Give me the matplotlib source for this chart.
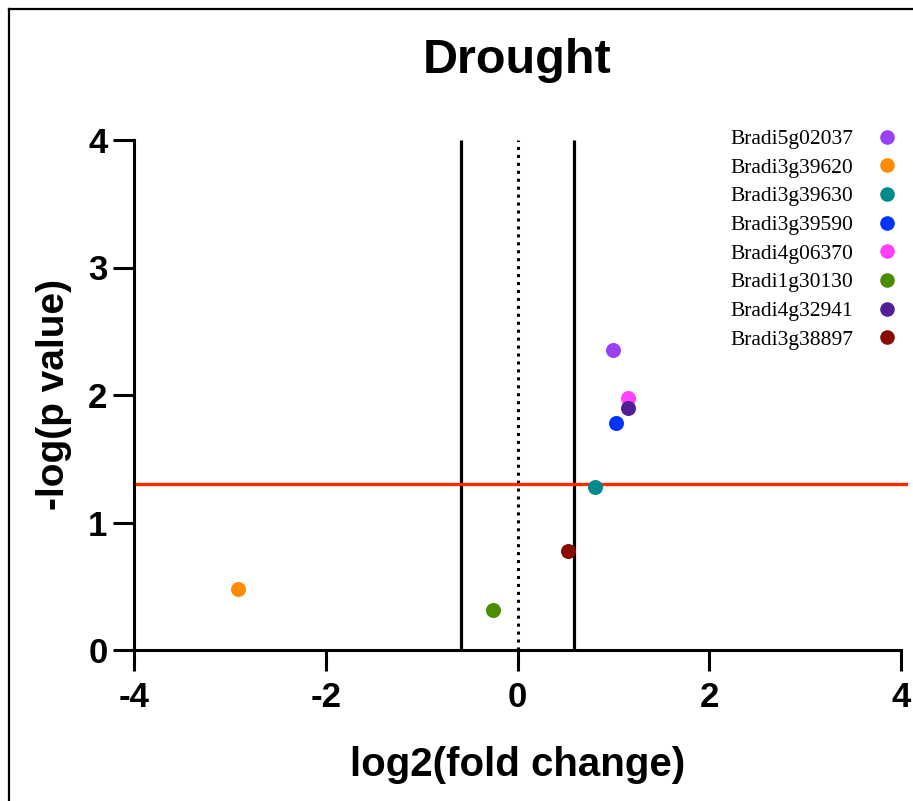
import matplotlib
matplotlib.use("Agg")
import matplotlib.pyplot as plt
from matplotlib.lines import Line2D

# Gene expression under drought: log2 fold change vs -log10 p value
genes = ["Bradi5g02037", "Bradi3g39620", "Bradi3g39630", "Bradi3g39590",
         "Bradi4g06370", "Bradi1g30130", "Bradi4g32941", "Bradi3g38897"]
log2_fc = [1.00, -2.92, 0.81, 1.03, 1.15, -0.26, 1.15, 0.53]
neg_log_p = [2.35, 0.48, 1.28, 1.78, 1.98, 0.31, 1.90, 0.78]
colors = ["#9a40f5", "#ff8c00", "#008b8b", "#0033ff",
          "#ff40ff", "#4c8c00", "#521e96", "#8b0a00"]

fc_cutoff = 0.585      # log2(1.5)
p_cutoff = 1.301       # -log10(0.05)
x_ticks = [-4, -2, 0, 2, 4]
y_ticks = [0, 1, 2, 3, 4]

W, H = 913, 801
fig = plt.figure(figsize=(W / 100, H / 100), dpi=100)
ax = fig.add_axes([134 / W, 1 - 650 / H, (901 - 134) / W, (650 - 140) / H])

sans = "Liberation Sans"

# threshold lines
ax.vlines([-fc_cutoff, fc_cutoff], 0, 4, colors="black", lw=2.3, zorder=2)
ax.vlines([0], 0, 4, colors="black", lw=2.2, linestyles=(0, (1, 1.6)), zorder=2)
ax.plot([-4, 4.05], [p_cutoff, p_cutoff], color="#ff2a00", lw=2.4,
        clip_on=False, zorder=2)

for g, x, y, c in zip(genes, log2_fc, neg_log_p, colors):
    ax.plot([x], [y], "o", color=c, ms=10.8, mec="none", zorder=3, label=g)

ax.set_xlim(-4, 4)
ax.set_ylim(0, 4)
ax.set_xticks(x_ticks)
ax.set_yticks(y_ticks)
ax.set_xticklabels([str(t) for t in x_ticks], fontfamily=sans,
                   fontweight="bold", fontsize=25)
ax.set_yticklabels([str(t) for t in y_ticks], fontfamily=sans,
                   fontweight="bold", fontsize=25)
ax.tick_params(axis="both", length=15, width=2.2, direction="out", color="black")
ax.tick_params(axis="x", pad=7)
ax.tick_params(axis="y", pad=4)
for side in ["top", "right"]:
    ax.spines[side].set_visible(False)
for side in ["left", "bottom"]:
    ax.spines[side].set_linewidth(2.2)

ax.set_xlabel("log2(fold change)", fontfamily=sans, fontweight="bold",
              fontsize=29, labelpad=23)
ax.set_ylabel("-log(p value)", fontfamily=sans, fontweight="bold",
              fontsize=28, labelpad=12)
fig.text(517 / W, 1 - 73 / H, "Drought", fontfamily=sans, fontweight="bold",
         fontsize=35, ha="center", va="baseline")

handles = [Line2D([], [], ls="none", marker="o", ms=10.5, color=c, mec="none")
           for c in colors]
leg = ax.legend(handles, genes, loc="upper right",
                bbox_to_anchor=(893 / W, 1 - 129 / H),
                bbox_transform=fig.transFigure, frameon=False,
                markerfirst=False, handlelength=0.6, handletextpad=1.25,
                labelspacing=0.40, borderpad=0, borderaxespad=0,
                prop={"family": "Liberation Serif", "size": 15.5})

# outer frame (left and top edges)
fig.add_artist(Line2D([9 / W, 9 / W], [0, 1 - 9 / H], color="black", lw=1.6,
                      transform=fig.transFigure))
fig.add_artist(Line2D([9 / W, 1], [1 - 9 / H, 1 - 9 / H], color="black", lw=1.6,
                      transform=fig.transFigure))

fig.savefig("out.png", dpi=100, facecolor="white")
